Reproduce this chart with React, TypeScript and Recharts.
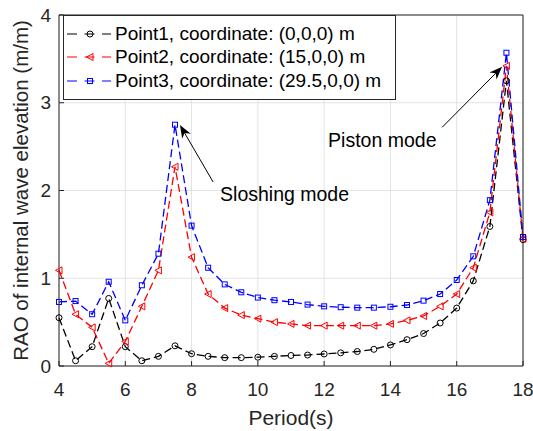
import React from "react";
import {
  LineChart,
  Line,
  XAxis,
  YAxis,
  CartesianGrid,
  Legend,
  ReferenceLine,
  ReferenceDot,
} from "recharts";

const periods = [
  4, 4.5, 5, 5.5, 6, 6.5, 7, 7.5, 8, 8.5, 9, 9.5, 10, 10.5, 11, 11.5, 12, 12.5,
  13, 13.5, 14, 14.5, 15, 15.5, 16, 16.5, 17, 17.5, 18,
];
const point1 = [
  0.55, 0.06, 0.22, 0.77, 0.22, 0.06, 0.11, 0.23, 0.14, 0.11, 0.095, 0.095, 0.1,
  0.11, 0.12, 0.125, 0.137, 0.15, 0.165, 0.19, 0.24, 0.3, 0.37, 0.49, 0.66, 0.97,
  1.59, 3.25, 1.44,
];
const point2 = [
  1.09, 0.59, 0.44, 0.03, 0.28, 0.68, 1.09, 2.27, 1.24, 0.82, 0.66, 0.58, 0.54,
  0.5, 0.48, 0.46, 0.46, 0.46, 0.46, 0.46, 0.48, 0.52, 0.57, 0.68, 0.82, 1.12,
  1.75, 3.42, 1.45,
];
const point3 = [
  0.73, 0.74, 0.59, 0.96, 0.52, 0.92, 1.28, 2.75, 1.6, 1.12, 0.93, 0.84, 0.78,
  0.75, 0.73, 0.7, 0.68, 0.67, 0.665, 0.665, 0.675, 0.695, 0.745, 0.82, 0.98,
  1.25, 1.89, 3.57, 1.47,
];
const xTicks = [4, 6, 8, 10, 12, 14, 16, 18];
const yTicks = [0, 1, 2, 3, 4];
const seriesNames = [
  "Point1, coordinate: (0,0,0) m",
  "Point2, coordinate: (15,0,0) m",
  "Point3, coordinate: (29.5,0,0) m",
];

const data = periods.map((p, i) => ({
  period: p,
  p1: point1[i],
  p2: point2[i],
  p3: point3[i],
}));

const FONT = '"Liberation Sans", Arial, sans-serif';
const AXIS = "#262626";
const DASH = "8 4";

const series = [
  { key: "p1", color: "#000000", marker: "circle" },
  { key: "p2", color: "#ff0000", marker: "triangle" },
  { key: "p3", color: "#0000ff", marker: "square" },
];

function Marker({ cx, cy, type, color }: any) {
  if (cx == null || cy == null) return null;
  if (type === "circle")
    return <circle cx={cx} cy={cy} r={3} fill="none" stroke={color} strokeWidth={1} />;
  if (type === "triangle")
    return (
      <polygon
        points={`${cx - 3.5},${cy} ${cx + 3},${cy - 3.5} ${cx + 3},${cy + 3.5}`}
        fill="none"
        stroke={color}
        strokeWidth={1}
      />
    );
  return (
    <rect x={cx - 2.5} y={cy - 2.5} width={5} height={5} fill="none" stroke={color} strokeWidth={1} />
  );
}

const makeDot = (type: string, color: string) => (props: any) =>
  <Marker key={props.key ?? `${type}-${props.index}`} cx={props.cx} cy={props.cy} type={type} color={color} />;

function LegendBox() {
  return (
    <div
      style={{
        border: "1px solid #262626",
        background: "#fff",
        padding: "6px 0 6px 3px",
        fontFamily: FONT,
        fontSize: 19,
        color: "#000",
        boxSizing: "border-box",
        width: 333,
      }}
    >
      {series.map((s, i) => (
        <div key={s.key} style={{ display: "flex", alignItems: "center", height: 23.5 }}>
          <svg width={44} height={14} style={{ display: "block" }}>
            <line x1={0} x2={44} y1={7} y2={7} stroke={s.color} strokeWidth={1.2} strokeDasharray="10 7.5" />
            <Marker cx={23} cy={7} type={s.marker} color={s.color} />
          </svg>
          <span style={{ marginLeft: 4, whiteSpace: "nowrap" }}>{seriesNames[i]}</span>
        </div>
      ))}
    </div>
  );
}

function Arrow(props: any) {
  const { x1, y1, x2, y2 } = props;
  const ang = Math.atan2(y2 - y1, x2 - x1);
  const L = 13;
  const W = 5;
  const bx = x2 - L * Math.cos(ang);
  const by = y2 - L * Math.sin(ang);
  const nx = x2 - L * 0.7 * Math.cos(ang);
  const ny = y2 - L * 0.7 * Math.sin(ang);
  const px = -Math.sin(ang) * W;
  const py = Math.cos(ang) * W;
  return (
    <g>
      <line x1={x1} y1={y1} x2={nx} y2={ny} stroke="#000" strokeWidth={1} />
      <polygon
        points={`${x2},${y2} ${bx + px},${by + py} ${nx},${ny} ${bx - px},${by - py}`}
        fill="#000"
      />
    </g>
  );
}

const annotText = (label: string) => (props: any) =>
  (
    <text x={props.cx} y={props.cy} fontFamily={FONT} fontSize={19.5} fill="#000">
      {label}
    </text>
  );

export default function App() {
  return (
    <div style={{ position: "absolute", left: 0, top: 0, background: "#fff" }}>
      <LineChart
        width={533}
        height={431}
        data={data}
        margin={{ top: 14, right: 9, bottom: 0, left: 0 }}
        style={{ fontFamily: FONT }}
      >
        <CartesianGrid stroke="#e3e3e3" strokeWidth={1} />
        <XAxis
          dataKey="period"
          type="number"
          domain={[4, 18]}
          ticks={xTicks}
          height={65}
          stroke={AXIS}
          tickSize={-5}
          tickMargin={22}
          tick={{ fill: AXIS, fontSize: 19 }}
          label={{ value: "Period(s)", position: "insideBottom", offset: 6, fill: AXIS, fontSize: 21 }}
        />
        <XAxis
          xAxisId="top"
          orientation="top"
          type="number"
          domain={[4, 18]}
          ticks={xTicks}
          height={1}
          stroke={AXIS}
          tickSize={-5}
          tick={false}
        />
        <YAxis
          type="number"
          domain={[0, 4]}
          ticks={yTicks}
          width={59}
          stroke={AXIS}
          tickSize={-5}
          tickMargin={13}
          tick={{ fill: AXIS, fontSize: 19 }}
          label={{
            value: "RAO of internal wave elevation (m/m)",
            angle: -90,
            position: "insideLeft",
            offset: 21,
            fill: AXIS,
            fontSize: 20.5,
            style: { textAnchor: "middle" },
          }}
        />
        <YAxis
          yAxisId="right"
          orientation="right"
          type="number"
          domain={[0, 4]}
          ticks={yTicks}
          width={1}
          stroke={AXIS}
          tickSize={-5}
          tick={false}
        />
        {series.map((s) => (
          <Line
            key={s.key}
            dataKey={s.key}
            stroke={s.color}
            strokeWidth={1.3}
            strokeDasharray={DASH}
            dot={makeDot(s.marker, s.color)}
            activeDot={false}
            isAnimationActive={false}
          />
        ))}
        <ReferenceLine
          segment={[
            { x: 8.65, y: 2.097 },
            { x: 7.65, y: 2.746 },
          ]}
          shape={Arrow}
          ifOverflow="visible"
        />
        <ReferenceLine
          segment={[
            { x: 15.56, y: 2.72 },
            { x: 17.37, y: 3.41 },
          ]}
          shape={Arrow}
          ifOverflow="visible"
        />
        <ReferenceDot x={8.86} y={1.88} r={0} shape={annotText("Sloshing mode")} ifOverflow="visible" />
        <ReferenceDot x={12.12} y={2.5} r={0} shape={annotText("Piston mode")} ifOverflow="visible" />
        <Legend
          layout="vertical"
          align="center"
          verticalAlign="middle"
          content={() => <LegendBox />}
          wrapperStyle={{ position: "absolute", left: 63, top: 15, width: 333 }}
        />
      </LineChart>
    </div>
  );
}
